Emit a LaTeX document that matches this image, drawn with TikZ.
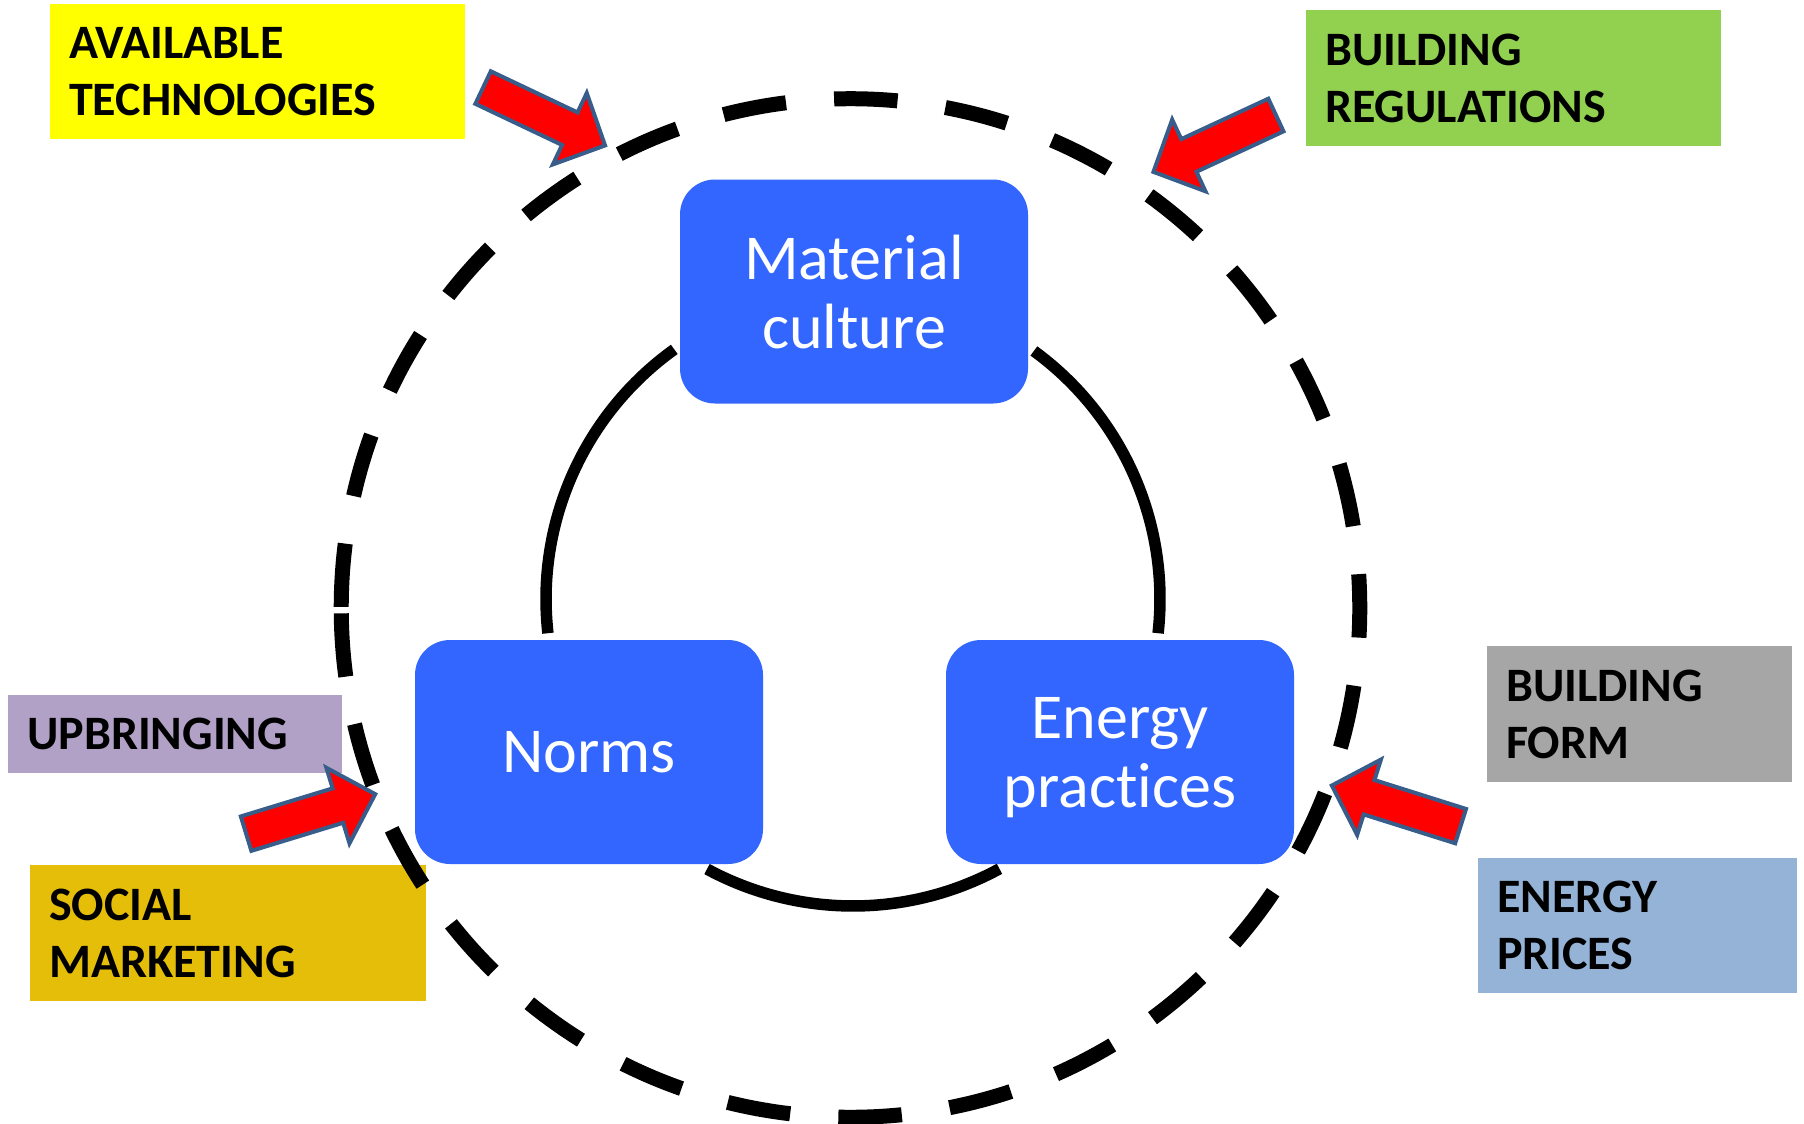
\documentclass[tikz,border=0pt]{standalone}
\usepackage{fontspec}
\setmainfont{Carlito}[Ligatures=NoCommon]
\usetikzlibrary{calc}
\definecolor{boxblue}{RGB}{51,102,255}
\definecolor{arrowedge}{RGB}{56,93,138}
\definecolor{cyellow}{RGB}{255,255,0}
\definecolor{cgreen}{RGB}{146,208,80}
\definecolor{cpurple}{RGB}{178,161,199}
\definecolor{cgold}{RGB}{229,190,10}
\definecolor{cgray}{RGB}{166,166,166}
\definecolor{cblue}{RGB}{149,179,215}
\begin{document}
\begin{tikzpicture}[x=1pt,y=-1pt,
 lab/.style={fill=#1, anchor=north west, inner xsep=19pt, inner ysep=0pt, align=left, text=black, font=\fontsize{48}{57}\selectfont\bfseries},
 blk/.style={fill=boxblue, rounded corners=35pt, minimum width=348pt, minimum height=224pt, inner sep=0pt, align=center, text=white, text depth=0pt, font=\fontsize{64}{69}\selectfont},
 link/.style={line width=11.5pt, black},
 ring/.style={line width=15pt, black, dash pattern=on 63.5pt off 48.3pt},
 pics/bigarrow/.style={code={\filldraw[fill=red, draw=arrowedge, line width=4pt, line join=miter] (2,-18) -- (98,-18) -- (98,-39.5) -- (137,0) -- (98,39.5) -- (98,18) -- (2,18) -- cycle;}}
]
\fill[white] (0,0) rectangle (1804,1124);
\useasboundingbox (0,0) rectangle (1804,1124);

% label boxes
\node[lab=cyellow, minimum height=135pt, text width=377pt] (avail) at (50,4) {AVAILABLE\\TECHNOLOGIES};
\node[lab=cgreen, minimum height=136pt, text width=377pt] (bregs) at (1306,10) {BUILDING\\REGULATIONS};
\node[lab=cpurple, minimum height=78pt, text width=296pt] (upbr) at (8,695) {UPBRINGING};
\node[lab=cgold, minimum height=136pt, text width=358pt] (social) at (30,865) {SOCIAL\\MARKETING};
\node[lab=cgray, minimum height=136pt, text width=267pt] (bform) at (1487,646) {BUILDING\\FORM};
\node[lab=cblue, minimum height=135pt, text width=281pt] (eprices) at (1478,858) {ENERGY\\PRICES};

% block arrows
\coordinate (tA) at (481.3,86.7);
\coordinate (tB) at (1277.7,114.2);
\coordinate (tC) at (244.2,834.2);
\coordinate (tD) at (1462.5,826.7);
\pic[rotate=-25.4] at (tA) {bigarrow};
\pic[rotate=-155.1] at (tB) {bigarrow};
\pic[rotate=17] at (tC) {bigarrow};
\pic[rotate=162.5] at (tD) {bigarrow};

% outer dashed circle
\coordinate (outer) at (850.5,608);
\draw[ring] ([shift={(179.4:509.3)}]outer) arc[start angle=179.4, end angle=-180.6, radius=509.3];

% blue boxes
\node[blk] (mc) at (854,291.5) {Material\\culture};
\node[blk] (norms) at (589,752) {Norms};
\node[blk] (ep) at (1120,752) {Energy\\practices};

% inner cycle connectors
\coordinate (inner) at (853,599);
\coordinate (mcR) at ([shift={(-53.9:307)}]inner);
\coordinate (epT) at ([shift={(6.4:307)}]inner);
\coordinate (epB) at ([shift={(61.5:307)}]inner);
\coordinate (noB) at ([shift={(118.4:307)}]inner);
\coordinate (noT) at ([shift={(173.6:307)}]inner);
\coordinate (mcL) at ([shift={(234.4:307)}]inner);
\draw[link] (mcR) arc[start angle=-53.9, end angle=6.4, radius=307];
\draw[link] (epB) arc[start angle=61.5, end angle=118.4, radius=307];
\draw[link] (noT) arc[start angle=173.6, end angle=234.4, radius=307];
\end{tikzpicture}
\end{document}
